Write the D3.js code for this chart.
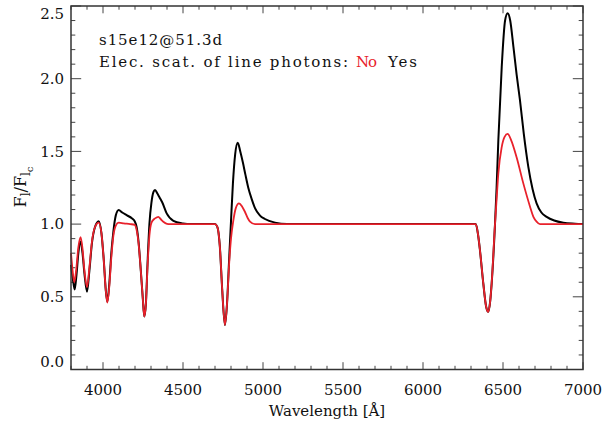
<!DOCTYPE html>
<html>
<head>
<meta charset="utf-8">
<script src="https://cdn.jsdelivr.net/npm/d3@7"></script>
<style>
    body { margin: 0; background: #fff; }
    svg { display: block; }
    text { font-family: "DejaVu Serif", "Liberation Serif", serif; fill: #111; }
</style>
</head>
<body>
<svg id="chart" width="615" height="421"></svg>
<script>
/**
 * Data: model s15e12 at day 51.3.
 * "Yes" = electron scattering of line photons on (black), "No" = off (red).
 */
const yesWave = [3800, 3812, 3823, 3835, 3846, 3860, 3872, 3884, 3900, 3915, 3931, 3950, 3973, 3990,
    4005, 4017, 4027, 4040, 4052, 4065, 4080, 4098, 4120, 4150, 4180, 4198, 4210, 4222, 4235,
    4248, 4258, 4268, 4278, 4290, 4303, 4315, 4325, 4340, 4355, 4370, 4398, 4440, 4500, 4550,
    4700, 4715, 4730, 4745, 4762, 4775, 4788, 4800, 4812, 4826, 4842, 4858, 4875, 4890, 4908,
    4930, 4950, 4980, 5012, 5075, 5150, 6330, 6345, 6356, 6377, 6395, 6408, 6420, 6429, 6450,
    6460, 6471, 6492, 6513, 6529, 6545, 6565, 6585, 6606, 6630, 6658, 6685, 6710, 6740, 6773,
    6820, 6877, 6950, 7000];
const yesFlux = [0.72, 0.62, 0.55, 0.66, 0.80, 0.88, 0.80, 0.66, 0.535, 0.68, 0.87, 0.98, 1.02, 0.94,
    0.75, 0.55, 0.466, 0.60, 0.80, 0.95, 1.06, 1.097, 1.08, 1.06, 1.04, 1.02, 0.98, 0.88, 0.70,
    0.50, 0.365, 0.45, 0.72, 1.00, 1.15, 1.22, 1.235, 1.21, 1.18, 1.15, 1.074, 1.023, 1.005, 1.0,
    1.0, 0.98, 0.85, 0.55, 0.306, 0.45, 0.75, 1.02, 1.28, 1.48, 1.56, 1.50, 1.42, 1.34, 1.25,
    1.17, 1.11, 1.06, 1.035, 1.01, 1.0, 1.0, 0.92, 0.82, 0.59, 0.43, 0.397, 0.47, 0.59, 1.0,
    1.25, 1.58, 2.08, 2.40, 2.45, 2.40, 2.22, 2.03, 1.853, 1.62, 1.395, 1.24, 1.143, 1.08, 1.05,
    1.025, 1.01, 1.003, 1.0];

const noWave = [3800, 3812, 3820, 3832, 3846, 3860, 3872, 3884, 3900, 3915, 3931, 3950, 3973, 3990,
    4005, 4017, 4027, 4040, 4052, 4065, 4080, 4098, 4130, 4170, 4198, 4210, 4222, 4235, 4248,
    4258, 4268, 4278, 4290, 4303, 4320, 4335, 4346, 4360, 4377, 4400, 4420, 4700, 4715, 4730,
    4745, 4762, 4775, 4788, 4800, 4814, 4830, 4850, 4870, 4887, 4905, 4919, 4950, 6330, 6345,
    6356, 6377, 6395, 6408, 6420, 6429, 6450, 6460, 6471, 6492, 6510, 6529, 6550, 6585, 6627,
    6669, 6690, 6710, 6731, 7000];
const noFlux = [0.80, 0.66, 0.60, 0.68, 0.84, 0.91, 0.83, 0.68, 0.565, 0.70, 0.88, 0.98, 1.01, 0.94,
    0.75, 0.55, 0.46, 0.58, 0.77, 0.92, 0.99, 1.01, 1.005, 1.0, 0.995, 0.96, 0.87, 0.70, 0.50,
    0.365, 0.45, 0.70, 0.92, 1.01, 1.035, 1.045, 1.05, 1.035, 1.016, 1.002, 1.0, 1.0, 0.98, 0.85,
    0.55, 0.306, 0.45, 0.72, 0.90, 1.02, 1.11, 1.143, 1.12, 1.085, 1.04, 1.017, 1.0, 1.0, 0.92,
    0.82, 0.59, 0.43, 0.397, 0.47, 0.59, 1.0, 1.17, 1.35, 1.53, 1.60, 1.62, 1.58, 1.46, 1.28,
    1.12, 1.05, 1.017, 1.0, 1.0];

const xTicks = [4000, 4500, 5000, 5500, 6000, 6500, 7000];
const yTicks = [0.0, 0.5, 1.0, 1.5, 2.0, 2.5];

/**
 * Visual configs.
 */
const visWidth = 615, visHeight = 421,
    margin = { top: 6, right: 32, bottom: 51.5, left: 71 },
    width = visWidth - margin.left - margin.right,
    height = visHeight - margin.top - margin.bottom,
    red = '#e8212b';

const xScale = d3.scaleLinear().domain([3800, 7000]).range([0, width]),
    yScale = d3.scaleLinear().domain([0, 2.5]).range([height, 0]);

const svg = d3.select('#chart'),
    g = svg.append('g').attr('transform', 'translate(' + margin.left + ',' + margin.top + ')');

/**
 * Ticks: inward on all four sides, IDL style.
 */
const xMinor = d3.range(3800, 7001, 100),
    yMinor = d3.range(0, 26).map(i => i / 10);
const xMajLen = 7.3, xMinLen = 3.7, yMajLen = 10.2, yMinLen = 4.3;

const tickG = g.append('g').attr('stroke', '#444').attr('stroke-width', 1);
xMinor.forEach(v => {
    const major = v % 500 === 0, len = major ? xMajLen : xMinLen, x = xScale(v);
    tickG.append('line').attr('x1', x).attr('x2', x).attr('y1', height).attr('y2', height - len);
    tickG.append('line').attr('x1', x).attr('x2', x).attr('y1', 0).attr('y2', len);
});
yMinor.forEach((v, i) => {
    const major = i % 5 === 0, len = major ? yMajLen : yMinLen, y = yScale(v);
    tickG.append('line').attr('x1', 0).attr('x2', len).attr('y1', y).attr('y2', y);
    tickG.append('line').attr('x1', width).attr('x2', width - len).attr('y1', y).attr('y2', y);
});

/**
 * Spectra.
 */
const line = d3.line()
    .x(d => xScale(d[0]))
    .y(d => yScale(d[1]))
    .curve(d3.curveMonotoneX);

const plotG = g.append('g');
plotG.append('path')
    .datum(d3.zip(yesWave, yesFlux))
    .attr('fill', 'none').attr('stroke', '#000').attr('stroke-width', 2)
    .attr('d', line);
plotG.append('path')
    .datum(d3.zip(noWave, noFlux))
    .attr('fill', 'none').attr('stroke', red).attr('stroke-width', 1.8)
    .attr('d', line);

// Frame
g.append('rect')
    .attr('width', width).attr('height', height)
    .attr('fill', 'none').attr('stroke', '#333').attr('stroke-width', 1.5);

/**
 * Tick labels.
 */
g.selectAll('.xlab').data(xTicks).enter().append('text')
    .attr('class', 'xlab')
    .attr('x', d => xScale(d)).attr('y', height + 25)
    .attr('text-anchor', 'middle')
    .style('font-size', '15px')
    .text(d => d);

g.selectAll('.ylab').data(yTicks).enter().append('text')
    .attr('class', 'ylab')
    .attr('x', -7)
    .attr('y', d => Math.min(height - 8, Math.max(8, yScale(d))))
    .attr('dy', '0.35em')
    .attr('text-anchor', 'end')
    .style('font-size', '15px')
    .text(d => d.toFixed(1));

/**
 * Axis titles.
 */
g.append('text')
    .attr('x', width / 2).attr('y', height + 46)
    .attr('text-anchor', 'middle')
    .style('font-size', '15px')
    .text('Wavelength [Å]');

const yTitle = svg.append('text')
    .attr('transform', 'translate(26,187) rotate(-90)')
    .attr('text-anchor', 'middle')
    .style('font-size', '16px');
yTitle.append('tspan').text('F');
yTitle.append('tspan').attr('dy', 4).style('font-size', '12px').text('l');
yTitle.append('tspan').attr('dy', -4).text('/F');
yTitle.append('tspan').attr('dy', 4).style('font-size', '12px').text('l');
yTitle.append('tspan').attr('dy', 3).style('font-size', '10px').text('c');

/**
 * Annotation.
 */
svg.append('text')
    .attr('x', 99).attr('y', 45)
    .style('font-size', '15px')
    .attr('textLength', 123)
    .text('s15e12@51.3d');
svg.append('text')
    .attr('x', 99).attr('y', 67)
    .style('font-size', '15px')
    .attr('textLength', 249)
    .text('Elec. scat. of line photons:');
svg.append('text')
    .attr('x', 356).attr('y', 67)
    .style('font-size', '15px').style('fill', red)
    .attr('textLength', 21)
    .text('No');
svg.append('text')
    .attr('x', 388).attr('y', 67)
    .style('font-size', '15px')
    .attr('textLength', 29)
    .text('Yes');
</script>
</body>
</html>
